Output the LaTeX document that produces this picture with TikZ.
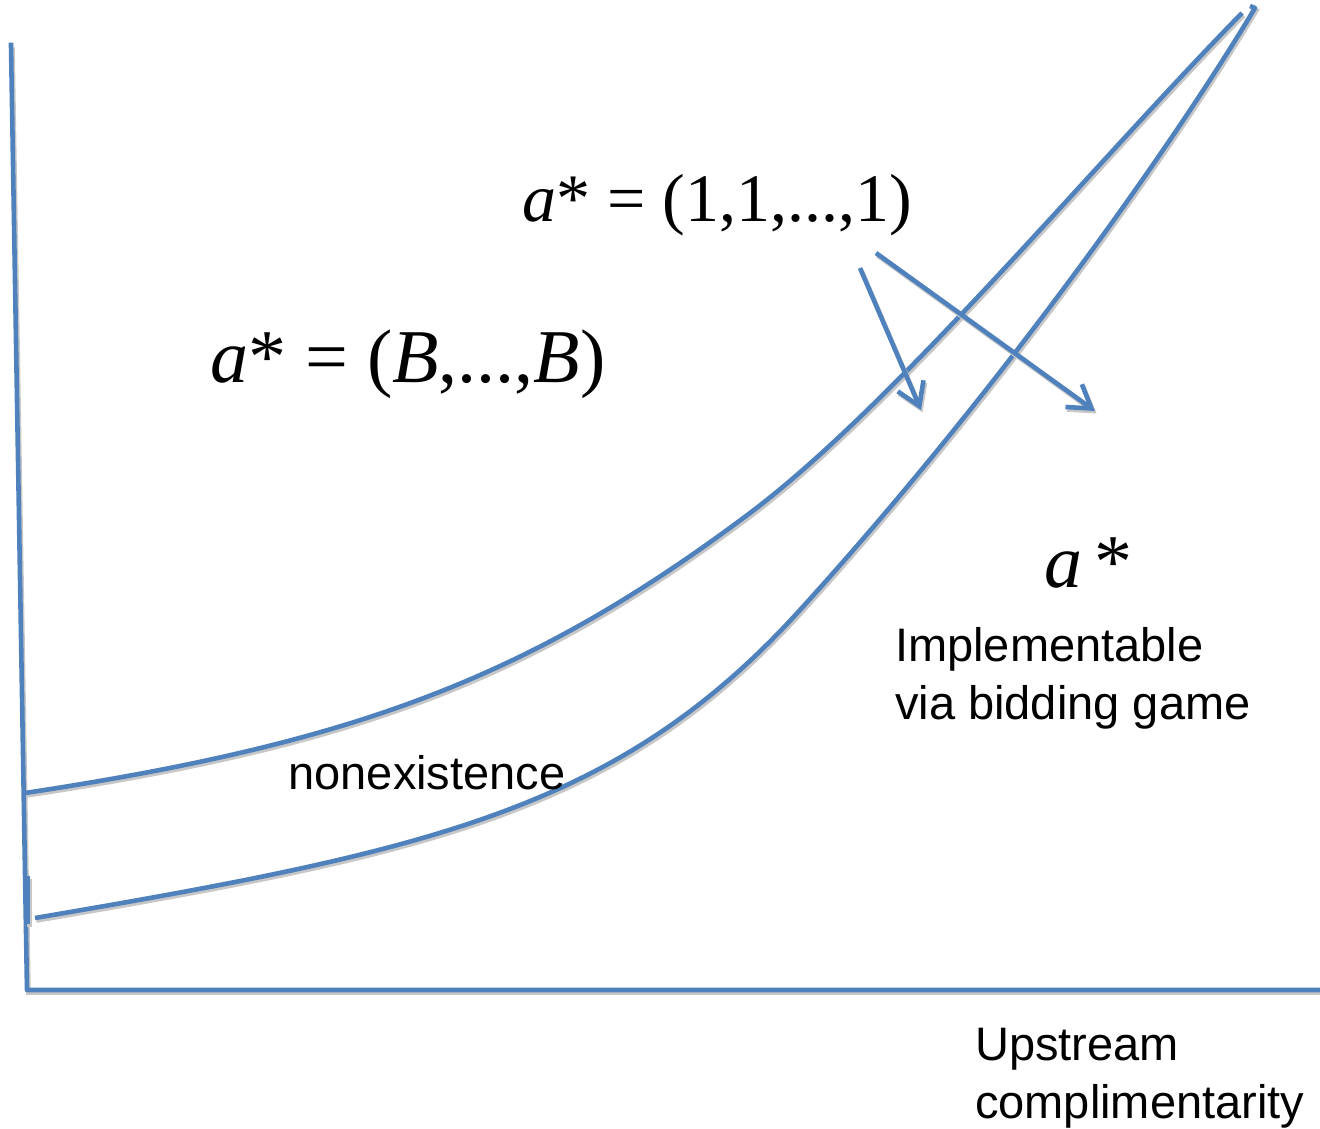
\documentclass[tikz,border=0pt]{standalone}
\usepackage{fontspec}
\setmainfont{Liberation Serif}
\newfontfamily\lsans{Liberation Sans}
\usetikzlibrary{arrows.meta}
\definecolor{ppblue}{HTML}{4F81BD}
\tikzset{
  bluel/.style={draw=ppblue, line width=4.6pt, line join=round,
    preaction={draw=black!22, line width=4.6pt, transform canvas={shift={(1.5pt,-2.5pt)}}}},
  barb/.style={-{Straight Barb[length=22pt,width=28pt,line width=4.6pt]}},
  lbl/.style={font=\lsans\fontsize{47}{58}\selectfont, align=left, inner sep=0pt},
  eqa/.style={font=\fontsize{68}{70}\selectfont, inner sep=0pt, anchor=base west},
  eqb/.style={font=\fontsize{76}{78}\selectfont, inner sep=0pt, anchor=base west},
  eqc/.style={font=\fontsize{76}{78}\selectfont, inner sep=0pt, anchor=base west}
}
\begin{document}
\begin{tikzpicture}[x=1pt,y=-1pt]
\useasboundingbox (0,0) rectangle (1320,1129);
% axes
\coordinate (ytop) at (11,45);
\coordinate (orig) at (27,990);
\coordinate (xend) at (1320,990);
\draw[bluel, line cap=rect] (ytop) -- (orig) -- (xend);
\coordinate (s1) at (28,876);
\coordinate (s2) at (28,924);
\draw[bluel] (s1) -- (s2);
% upper curve
\coordinate (u0) at (25,793);
\coordinate (u1) at (750,513);
\coordinate (u2) at (1242,13);
\draw[bluel] (u0) .. controls (355,743) and (530,678) .. (u1)
                  .. controls (895,404) and (1092,166) .. (u2);
% lower curve
\coordinate (l0) at (35,918);
\coordinate (l1) at (800,610);
\coordinate (l2) at (1255,8);
\coordinate (l3) at (1250,6);
\draw[bluel] (l0) .. controls (435,850) and (620,808) .. (l1)
                  .. controls (1000,390) and (1175,142) .. (l2) -- (l3);
% labels
\node[eqa] (eq1) at (522,221) {\textit{a}* = (1,1,...,1)};
\node[eqb] (eq2) at (210,382) {\textit{a}* = (\textit{B},...,\textit{B})};
\node[eqc] (eq3) at (1044,587) {\textit{a}\hspace{12pt}*};
\node[lbl, anchor=north west] (impl) at (895,627) {Implementable\\via bidding game};
\node[lbl] (nonex) at (427,773) {nonexistence};
\node[lbl, anchor=north west] (up) at (975,1028) {Upstream\\complimentarity};
% arrows
\coordinate (a1s) at (860,268);
\coordinate (a1e) at (921,410);
\coordinate (a2s) at (876,253);
\coordinate (a2e) at (1095,411);
\draw[bluel, barb] (a1s) -- (a1e);
\draw[bluel, barb] (a2s) -- (a2e);
\end{tikzpicture}
\end{document}
